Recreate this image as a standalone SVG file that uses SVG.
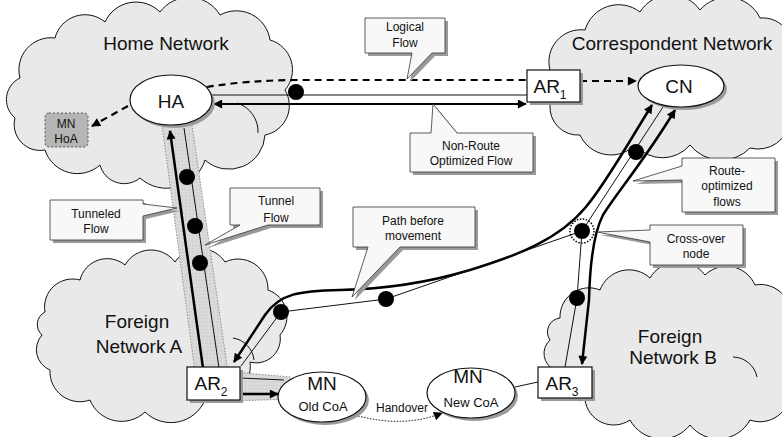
<svg xmlns="http://www.w3.org/2000/svg" width="782" height="437" viewBox="0 0 782 437">
<defs>
<style>
.cloud{fill:#e9e9e9;stroke:#111;stroke-width:1}
.inner{fill:none;stroke:#111;stroke-width:1}
.t{font-family:"Liberation Sans",Arial,sans-serif;fill:#111;text-anchor:middle}
.big{font-size:19px}
.small{font-size:12px}
.co{fill:#f8f8f8;stroke:#333;stroke-width:0.8}
.sh{fill:#9a9a9a}
.node{fill:#fff;stroke:#111;stroke-width:1.2}
.thin{fill:none;stroke:#111;stroke-width:1}
.thick{fill:none;stroke:#000;stroke-width:2.5}
.dash{fill:none;stroke:#000;stroke-width:2.2;stroke-dasharray:7 5}
.dot{fill:#000}
.band{fill:url(#grid);stroke:#777;stroke-width:0.8;stroke-dasharray:1.5 1.5}
</style>
<pattern id="grid" width="3.5" height="3.5" patternUnits="userSpaceOnUse"><rect width="3.5" height="3.5" fill="#dcdcdc"/><path d="M0,0.25H3.5M0.25,0V3.5" stroke="#c6c6c6" stroke-width="0.5"/></pattern>
<marker id="ah" viewBox="0 0 10 10" refX="9" refY="5" markerWidth="10" markerHeight="9" markerUnits="userSpaceOnUse" orient="auto-start-reverse"><path d="M0,0L10,5L0,10z" fill="#000"/></marker>
</defs>

<g id="clouds">
<path id="home-cloud" class="cloud" d="M20,78 A32,32 0 0 1 55,38 A31,31 0 0 1 105,22 A34,34 0 0 1 160,12 A36,36 0 0 1 220,15 A34,34 0 0 1 270,40 A31,31 0 0 1 285,90 A30,30 0 0 1 265,135 A36,36 0 0 1 205,160 A40,40 0 0 1 140,178 A25,25 0 0 1 100,165 A34,34 0 0 1 45,150 A26,26 0 0 1 15,118 A24,24 0 0 1 20,78 Z"/>
<path class="inner" d="M237,103 A30,30 0 0 1 258,133"/>
<path id="cn-cloud" class="cloud" d="M550,70 A32,32 0 0 1 585,30 A35,35 0 0 1 640,12 A36,36 0 0 1 700,10 A36,36 0 0 1 760,18 A30,30 0 0 1 790,60 A38,38 0 0 1 790,120 A32,32 0 0 1 750,148 A40,40 0 0 1 690,145 A36,36 0 0 1 635,145 A34,34 0 0 1 580,135 A28,28 0 0 1 550,105 A22,22 0 0 1 550,70 Z"/>
<path id="fa-cloud" class="cloud" d="M45,312 A28,28 0 0 1 80,280 A28,28 0 0 1 125,265 A30,30 0 0 1 175,262 A30,30 0 0 1 225,262 A30,30 0 0 1 268,290 A28,28 0 0 1 280,335 A24,24 0 0 1 250,362 A35,35 0 0 1 205,400 A37,37 0 0 1 145,412 A34,34 0 0 1 90,400 A30,30 0 0 1 50,370 A22,22 0 0 1 42,335 A14,14 0 0 1 45,312 Z"/>
<path class="inner" d="M233,338 A25,25 0 0 1 254,360"/>
<path id="fb-cloud" class="cloud" d="M560,318 A29,29 0 0 1 600,290 A31,31 0 0 1 650,278 A33,33 0 0 1 705,275 A31,31 0 0 1 755,285 A30,30 0 0 1 790,320 A40,40 0 0 1 790,390 A30,30 0 0 1 750,420 A36,36 0 0 1 690,425 A36,36 0 0 1 630,420 A29,29 0 0 1 585,400 A25,25 0 0 1 555,370 A18,18 0 0 1 550,340 A14,14 0 0 1 560,318 Z"/>
<path class="inner" d="M733,357 A25,25 0 0 1 757,377"/>
<text class="t big" x="166" y="50">Home Network</text>
<text class="t big" x="672" y="50">Correspondent Network</text>
<text class="t big" x="137" y="328">Foreign</text>
<text class="t big" x="139" y="353">Network A</text>
<text class="t big" x="670" y="343">Foreign</text>
<text class="t big" x="673" y="364">Network B</text>
</g>

<g id="connectors">
<polygon class="band" points="162,125 192,125 228,372 195,372"/>
<polygon class="band" points="235,372 290,377 290,399 235,401"/>
<path class="thick" d="M203,368 L170,131" marker-end="url(#ah)"/>
<path class="thin" d="M184,128 L219,368"/>
<path class="thin" d="M240,378 L284,380"/>
<path class="thick" d="M240,394 L278,394" marker-end="url(#ah)"/>
<path class="dash" d="M207,87 Q250,80 300,80 L527,80"/>
<path class="dash" d="M580,81 L636,81" marker-end="url(#ah)"/>
<path class="dash" d="M128,106 L92,126" marker-end="url(#ah)"/>
<path class="thin" d="M212,95 L527,95"/>
<path style="fill:none;stroke:#000;stroke-width:1.8" d="M214,104 L526,104" marker-start="url(#ah)" marker-end="url(#ah)"/>
<path class="thick" d="M652,105 C630,140 605,185 585,208 C560,238 520,255 470,270 C430,282 390,289 340,290 C300,291 280,293 265,315 L234,362" marker-start="url(#ah)" marker-end="url(#ah)"/>
<path class="thick" d="M675,110 C645,160 615,195 603,215 C594,232 590,260 589,300 L582,364" marker-start="url(#ah)" marker-end="url(#ah)"/>
<path class="thin" d="M663,107 L582,231 L386,299 L281,312 L241,366"/>
<path class="thin" d="M582,231 L577,298 L565,367"/>
<path class="thin" d="M515,387 L538,382"/>
<path style="fill:none;stroke:#000;stroke-width:1;stroke-dasharray:1.5 1.5" d="M358,416 Q405,428 442,413" marker-end="url(#ah)"/>
<text class="t small" x="402" y="412">Handover</text>
<circle class="dot" cx="296" cy="92" r="8"/>
<circle class="dot" cx="187" cy="177" r="8"/>
<circle class="dot" cx="195" cy="226" r="8"/>
<circle class="dot" cx="200" cy="263" r="8"/>
<circle class="dot" cx="636" cy="152" r="8"/>
<circle class="dot" cx="582" cy="231" r="8"/>
<circle cx="582" cy="231" r="12" fill="none" stroke="#000" stroke-width="1.5" stroke-dasharray="1.5 1.5"/>
<circle class="dot" cx="386" cy="299" r="8"/>
<circle class="dot" cx="281" cy="312" r="8"/>
<circle class="dot" cx="577" cy="298" r="8"/>
</g>

<g id="HA">
<ellipse class="sh" cx="174" cy="103" rx="41" ry="25"/>
<ellipse class="node" cx="171" cy="100" rx="41" ry="25"/>
<text class="t big" x="171" y="108">HA</text>
</g>
<g id="MN-HoA">
<rect x="45" y="113" width="43" height="34" rx="4" fill="#b5b5b5" stroke="#555" stroke-width="1" stroke-dasharray="2 2"/>
<text class="t" style="font-size:12px" x="66" y="128">MN</text>
<text class="t" style="font-size:12px" x="66" y="143">HoA</text>
</g>
<g id="AR1">
<rect class="sh" x="530" y="73" width="53" height="32"/>
<rect class="node" x="527" y="70" width="53" height="32"/>
<text class="t big" x="550" y="93">AR<tspan style="font-size:12px" dy="6">1</tspan></text>
</g>
<g id="CN">
<ellipse class="sh" cx="684" cy="89" rx="43" ry="21"/>
<ellipse class="node" cx="681" cy="86" rx="43" ry="21"/>
<text class="t big" x="679" y="93">CN</text>
</g>
<g id="AR2">
<rect class="sh" x="190" y="370" width="53" height="33"/>
<rect class="node" x="187" y="367" width="53" height="33"/>
<text class="t big" x="211" y="390">AR<tspan style="font-size:12px" dy="6">2</tspan></text>
</g>
<g id="AR3">
<rect class="sh" x="541" y="370" width="54" height="31"/>
<rect class="node" x="538" y="367" width="54" height="31"/>
<text class="t big" x="562" y="390">AR<tspan style="font-size:12px" dy="6">3</tspan></text>
</g>
<g id="MN-old">
<ellipse class="sh" cx="325" cy="400" rx="44" ry="25"/>
<ellipse class="node" cx="322" cy="397" rx="44" ry="25"/>
<text class="t big" x="322" y="390">MN</text>
<text class="t" style="font-size:13px" x="323" y="411">Old CoA</text>
</g>
<g id="MN-new">
<ellipse class="sh" cx="474" cy="396" rx="44" ry="25"/>
<ellipse class="node" cx="471" cy="393" rx="44" ry="25"/>
<text class="t big" x="468" y="383">MN</text>
<text class="t" style="font-size:13px" x="471" y="407">New CoA</text>
</g>

<g id="callout-logical">
<path class="sh" transform="translate(3,3)" d="M365,18 H445 V53 H432 L407,79 L412,53 H365 Z"/>
<path class="co" d="M365,18 H445 V53 H432 L407,79 L412,53 H365 Z"/>
<text class="t small" x="405" y="31">Logical</text>
<text class="t small" x="405" y="47">Flow</text>
</g>
<g id="callout-nonroute">
<path class="sh" transform="translate(3,3)" d="M410,133 H431 L433,104 L457,133 H533 V172 H410 Z"/>
<path class="co" d="M410,133 H431 L433,104 L457,133 H533 V172 H410 Z"/>
<text class="t small" x="471" y="150">Non-Route</text>
<text class="t small" x="471" y="165">Optimized Flow</text>
</g>
<g id="callout-routeopt">
<path class="sh" transform="translate(3,3)" d="M682,158 H775 V212 H682 V180 L633,181 L682,166 Z"/>
<path class="co" d="M682,158 H775 V212 H682 V180 L633,181 L682,166 Z"/>
<text class="t small" x="727" y="175">Route-</text>
<text class="t small" x="727" y="190">optimized</text>
<text class="t small" x="727" y="206">flows</text>
</g>
<g id="callout-crossover">
<path class="sh" transform="translate(3,3)" d="M650,225 H743 V265 H650 V242 L597,232 L650,230 Z"/>
<path class="co" d="M650,225 H743 V265 H650 V242 L597,232 L650,230 Z"/>
<text class="t small" x="696" y="243">Cross-over</text>
<text class="t small" x="696" y="258">node</text>
</g>
<g id="callout-path">
<path class="sh" transform="translate(3,3)" d="M353,207 H475 V247 H400 L352,297 L368,247 H353 Z"/>
<path class="co" d="M353,207 H475 V247 H400 L352,297 L368,247 H353 Z"/>
<text class="t small" x="413" y="225">Path before</text>
<text class="t small" x="413" y="240">movement</text>
</g>
<g id="callout-tunneled">
<path class="sh" transform="translate(3,3)" d="M50,200 H143 V204 L177,208 L143,216 V240 H50 Z"/>
<path class="co" d="M50,200 H143 V204 L177,208 L143,216 V240 H50 Z"/>
<text class="t small" x="96" y="218">Tunneled</text>
<text class="t small" x="96" y="233">Flow</text>
</g>
<g id="callout-tunnel">
<path class="sh" transform="translate(3,3)" d="M230,188 H320 V225 H268 L205,245 L240,225 H230 Z"/>
<path class="co" d="M230,188 H320 V225 H268 L205,245 L240,225 H230 Z"/>
<text class="t small" x="276" y="205">Tunnel</text>
<text class="t small" x="276" y="222">Flow</text>
</g>
</svg>
